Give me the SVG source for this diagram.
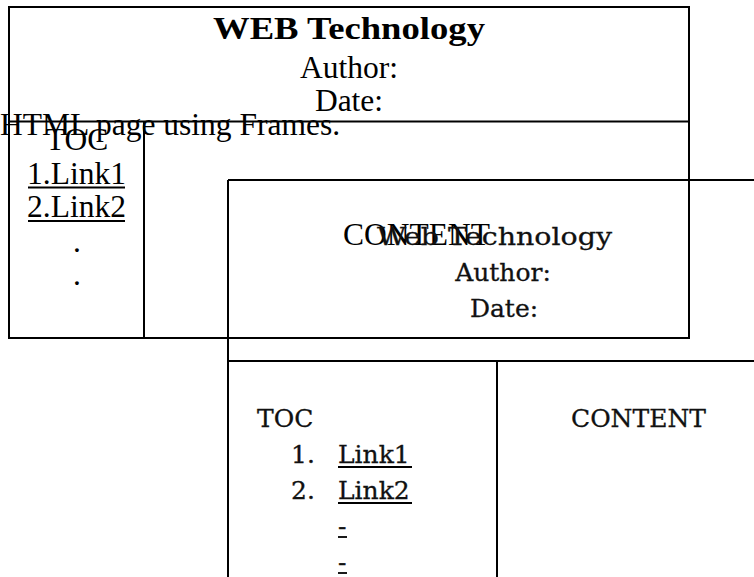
<svg xmlns="http://www.w3.org/2000/svg" width="754" height="577" viewBox="0 0 754 577">
<style>
.ln{stroke:#000;stroke-width:2;fill:none}
.ul{stroke:#000;stroke-width:1.8}
.tnr{font-family:"Liberation Serif","Times New Roman",serif;font-size:31.5px;fill:#000}
.tb{font-family:"Liberation Serif","Times New Roman",serif;font-size:32px;font-weight:bold;fill:#000}
.cam{font-family:"DejaVu Serif",Cambria,serif;font-size:25px;fill:#111;stroke:#111;stroke-width:0.3}
.c{text-anchor:middle}
</style>
<rect width="754" height="577" fill="#fff"/>
<g id="connectors">
<path class="ln" d="M9,7 H689 V338 H9 Z"/>
<path class="ln" d="M9,121.5 H689"/>
<path class="ln" d="M144,121.5 V338"/>
<path class="ln" d="M228,180 H754"/>
<path class="ln" d="M228,180 V577"/>
<path class="ln" d="M228,361 H754"/>
<path class="ln" d="M497,361 V577"/>
</g>
<g id="header">
<text class="tb" x="213" y="38.5" textLength="272" lengthAdjust="spacingAndGlyphs">WEB Technology</text>
<text class="tnr c" x="349" y="78">Author:</text>
<text class="tnr c" x="349" y="111">Date:</text>
</g>
<g id="caption">
<text class="tnr" x="0" y="135">HTML page using Frames.</text>
</g>
<g id="toc-top">
<text class="tnr c" x="77" y="150">TOC</text>
<text class="tnr c" x="76.5" y="183.5">1.Link1</text>
<line class="ul" x1="28" y1="187.5" x2="125" y2="187.5"/>
<text class="tnr c" x="76.5" y="217">2.Link2</text>
<line class="ul" x1="28" y1="221" x2="125" y2="221"/>
<text class="tnr c" x="77" y="252">.</text>
<text class="tnr c" x="77" y="285">.</text>
</g>
<g id="content-top">
<text class="tnr c" x="416.5" y="245">CONTENT</text>
</g>
<g id="header-bottom">
<text class="cam" x="377" y="245" textLength="235" lengthAdjust="spacingAndGlyphs">Web Technology</text>
<text class="cam c" x="503" y="281">Author:</text>
<text class="cam c" x="504" y="317">Date:</text>
</g>
<g id="toc-bottom">
<text class="cam" x="257" y="427">TOC</text>
<text class="cam" x="291" y="463">1.</text>
<text class="cam" x="338" y="463">Link1</text>
<line class="ul" x1="338" y1="467" x2="412" y2="467"/>
<text class="cam" x="291" y="499">2.</text>
<text class="cam" x="338" y="499">Link2</text>
<line class="ul" x1="338" y1="503" x2="412" y2="503"/>
<text class="cam" x="338" y="535">-</text>
<line class="ul" x1="338" y1="537" x2="347" y2="537"/>
<text class="cam" x="338" y="571">-</text>
<line class="ul" x1="338" y1="573" x2="347" y2="573"/>
</g>
<g id="content-bottom">
<text class="cam c" x="638.5" y="427">CONTENT</text>
</g>
</svg>
